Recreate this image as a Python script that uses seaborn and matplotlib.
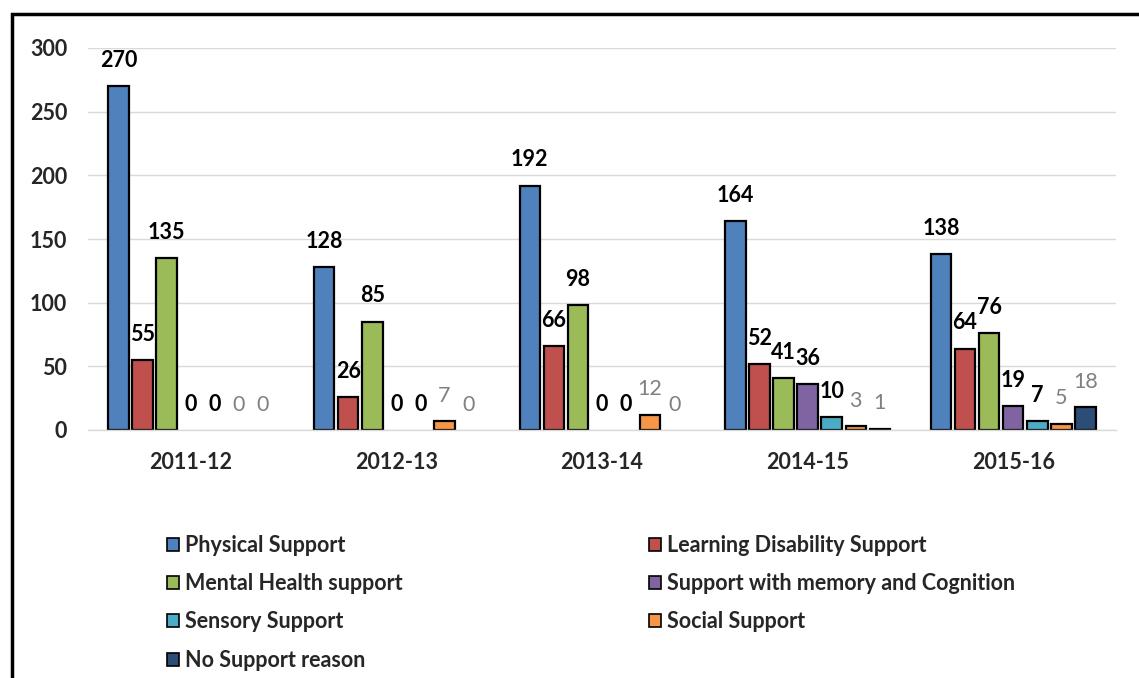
import matplotlib
matplotlib.use("Agg")
import matplotlib.pyplot as plt
import seaborn as sns
import pandas as pd
from matplotlib.patches import Rectangle, Patch

years = ["2011-12", "2012-13", "2013-14", "2014-15", "2015-16"]
reasons = [
    "Physical Support",
    "Learning Disability Support",
    "Mental Health support",
    "Support with memory and Cognition",
    "Sensory Support",
    "Social Support",
    "No Support reason",
]
physical = [270, 128, 192, 164, 138]
learning = [55, 26, 66, 52, 64]
mental = [135, 85, 98, 41, 76]
memory = [0, 0, 0, 36, 19]
sensory = [0, 0, 0, 10, 7]
social = [0, 7, 12, 3, 5]
no_reason = [0, 0, 0, 1, 18]
colors = ["#4F81BD", "#C0504D", "#9BBB59", "#8064A2", "#4BACC6", "#F79646", "#2C4D75"]
y_ticks = [0, 50, 100, 150, 200, 250, 300]

values = [physical, learning, mental, memory, sensory, social, no_reason]
rows = []
for reason, vals in zip(reasons, values):
    for year, v in zip(years, vals):
        rows.append({"Year": year, "Reason": reason, "Count": v})
df = pd.DataFrame(rows)

sns.set_theme(style="white")
plt.rcParams["font.family"] = ["Lato", "DejaVu Sans"]

W, H = 1139, 678
fig = plt.figure(figsize=(W / 100, H / 100), dpi=100)
ax = fig.add_axes([88 / W, 1 - 430 / H, (1116 - 88) / W, (430 - 48) / H])

sns.barplot(
    data=df, x="Year", y="Count", hue="Reason", order=years, hue_order=reasons,
    palette=colors, saturation=1, width=0.82, gap=0.15,
    edgecolor="black", linewidth=1.6, legend=False, ax=ax,
)

# hide outlines of empty bars
for p in ax.patches:
    if p.get_height() == 0:
        p.set_linewidth(0)

# value labels: last two series in grey regular, others bold black
FS = 15.5
for i, cont in enumerate(ax.containers):
    if i >= 5:
        ax.bar_label(cont, padding=11, fontsize=FS, color="#808080")
    else:
        ax.bar_label(cont, padding=11, fontsize=FS, fontweight="bold", color="black")

ax.set_ylim(0, 300)
ax.set_xlim(-0.5, 4.5)
ax.set_yticks(y_ticks)
ax.yaxis.grid(True, color="#D9D9D9", linewidth=1)
ax.set_axisbelow(True)
for side in ["top", "right", "left"]:
    ax.spines[side].set_visible(False)
ax.spines["bottom"].set_color("#D9D9D9")
ax.spines["bottom"].set_linewidth(1)
ax.tick_params(axis="both", length=0, labelsize=FS)
ax.tick_params(axis="x", pad=16)
ax.tick_params(axis="y", pad=15)
for lbl in ax.get_xticklabels() + ax.get_yticklabels():
    lbl.set_fontweight("bold")
ax.set_xlabel("")
ax.set_ylabel("")

# two-column legend laid out row by row
def handles_for(idx):
    return [Patch(facecolor=colors[k], edgecolor="black", linewidth=1.2) for k in idx], [reasons[k] for k in idx]

legend_kw = dict(loc="upper left", frameon=False, borderpad=0, borderaxespad=0,
                 handlelength=0.55, handleheight=0.55, handletextpad=0.3,
                 labelspacing=0.8, prop={"size": FS, "weight": "bold"})
h1, l1 = handles_for([0, 2, 4, 6])
h2, l2 = handles_for([1, 3, 5])
fig.legend(h1, l1, bbox_to_anchor=(167 / W, 1 - 535 / H), **legend_kw)
fig.legend(h2, l2, bbox_to_anchor=(649 / W, 1 - 535 / H), **legend_kw)

# outer frame
fig.patches.append(Rectangle((12 / W, -0.1), 1.2, 1 - 14 / H + 0.1, transform=fig.transFigure,
                             fill=False, edgecolor="black", linewidth=2.5))

fig.savefig("out.png", dpi=100)
